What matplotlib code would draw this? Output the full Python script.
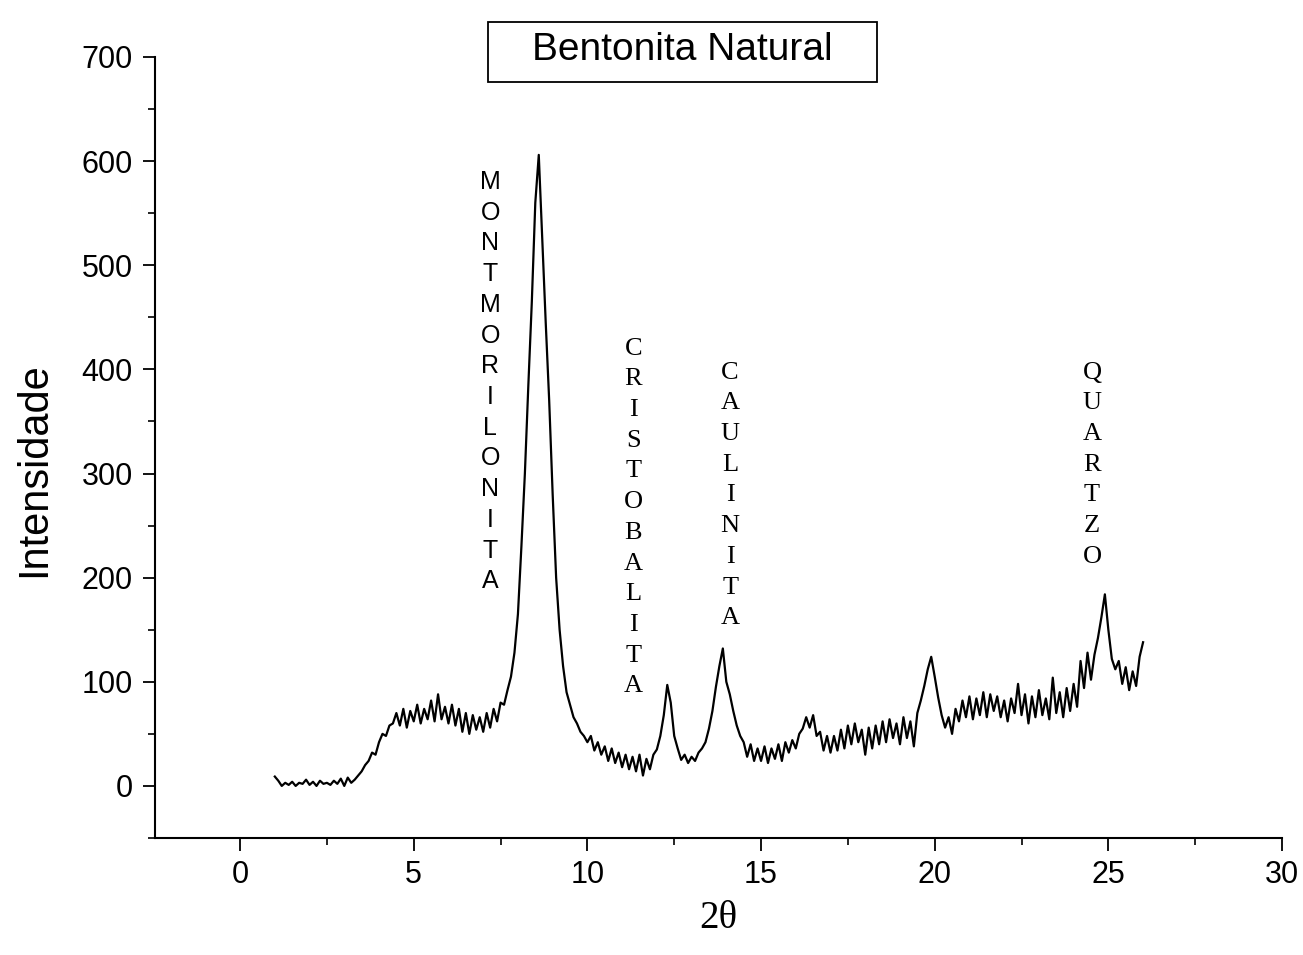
import numpy as np
import matplotlib
matplotlib.use("Agg")
import matplotlib.pyplot as plt
from matplotlib.patches import Rectangle
from matplotlib.ticker import MultipleLocator

# -------------------------------
# Data (step 0.1 deg in 2theta)
# -------------------------------
two_theta_start = 1.0
two_theta_step = 0.1

intensity = [
    9, 5, 0, 3, 1, 4, 0, 3, 2, 6,              # 1.0
    1, 4, 0, 5, 2, 3, 1, 5, 2, 7,              # 2.0
    0, 8, 3, 6, 10, 14, 20, 24, 32, 30,        # 3.0
    42, 50, 48, 58, 60, 70, 58, 74, 56, 72,    # 4.0
    62, 78, 60, 74, 64, 82, 62, 88, 64, 76,    # 5.0
    60, 78, 58, 74, 52, 70, 50, 68, 54, 66,    # 6.0
    52, 70, 56, 74, 62, 80, 78, 92, 105, 128,  # 7.0
    165, 230, 300, 385, 465, 560, 606, 525, 445, 370,  # 8.0
    280, 200, 150, 115, 90, 78, 66, 60, 52, 48,        # 9.0
    42, 48, 34, 42, 30, 38, 24, 36, 22, 32,    # 10.0
    18, 30, 16, 28, 14, 30, 10, 26, 16, 30,    # 11.0
    35, 48, 68, 97, 80, 48, 36, 25, 30, 22,    # 12.0
    28, 24, 32, 36, 42, 55, 72, 95, 115, 132,  # 13.0
    100, 88, 72, 58, 48, 42, 28, 40, 24, 36,   # 14.0
    24, 38, 22, 36, 26, 40, 24, 42, 32, 44,    # 15.0
    36, 50, 55, 66, 56, 68, 48, 52, 34, 48,    # 16.0
    32, 48, 34, 54, 36, 58, 40, 60, 42, 54,    # 17.0
    30, 56, 36, 58, 40, 62, 42, 64, 46, 60,    # 18.0
    40, 66, 46, 62, 38, 70, 82, 96, 112, 124,  # 19.0
    105, 85, 68, 56, 66, 50, 74, 62, 82, 66,   # 20.0
    86, 64, 84, 68, 90, 66, 88, 72, 86, 66,    # 21.0
    82, 62, 84, 70, 98, 68, 88, 60, 86, 66,    # 22.0
    92, 68, 84, 64, 104, 70, 90, 66, 94, 72,   # 23.0
    98, 76, 120, 94, 128, 102, 126, 142, 162, 184,  # 24.0
    150, 122, 112, 120, 98, 114, 92, 110, 96, 124,  # 25.0
    138,                                       # 26.0
]

two_theta = two_theta_start + two_theta_step * np.arange(len(intensity))

# phase labels: (name, x position, y of first letter, font family)
phase_names = ["MONTMORILONITA", "CRISTOBALITA", "CAULINITA", "QUARTZO"]
phase_x = [7.2, 11.32, 14.11, 24.53]
phase_ytop = [580, 420, 397, 397]
phase_family = ["Liberation Sans", "Liberation Serif", "Liberation Serif", "Liberation Serif"]

title = "Bentonita Natural"

# -------------------------------
# Figure
# -------------------------------
W, H = 1303, 955
fig = plt.figure(figsize=(W / 100, H / 100), dpi=100)
ax = fig.add_axes([155 / W, 1 - 838 / H, (1282 - 155) / W, (838 - 57) / H])

ax.plot(two_theta, intensity, color="black", lw=1.6)

ax.set_xlim(-2.45, 30)
ax.set_ylim(-50, 700)
ax.xaxis.set_major_locator(MultipleLocator(5))
ax.xaxis.set_minor_locator(MultipleLocator(2.5))
ax.yaxis.set_major_locator(MultipleLocator(100))
ax.yaxis.set_minor_locator(MultipleLocator(50))

for s in ["top", "right"]:
    ax.spines[s].set_visible(False)
for s in ["left", "bottom"]:
    ax.spines[s].set_linewidth(1.5)

ax.tick_params(which="major", direction="out", length=9, width=1.3, pad=7,
               labelsize=22)
ax.tick_params(which="minor", direction="out", length=5, width=1.2)
for lbl in ax.get_xticklabels() + ax.get_yticklabels():
    lbl.set_family("Liberation Sans")

fig.text(34 / W, 1 - 470 / H, "Intensidade", rotation=90, ha="center",
         va="center", fontsize=30, family="Liberation Sans")
fig.text(718 / W, 1 - 918 / H, "2\u03b8", ha="center", va="center",
         fontsize=28, family="Liberation Serif")

# title in a box
fig.patches.append(Rectangle((488 / W, 1 - 82 / H), 389 / W, 60 / H,
                             transform=fig.transFigure, fill=False,
                             lw=1.3, edgecolor="black"))
fig.text(682 / W, 1 - 50 / H, title, ha="center", va="center",
         fontsize=28, family="Liberation Sans")

# vertical phase labels, one letter per line
letter_step = 29.5
for name, x, ytop, fam in zip(phase_names, phase_x, phase_ytop, phase_family):
    size = 18 if fam == "Liberation Sans" else 19
    for i, ch in enumerate(name):
        ax.text(x, ytop - i * letter_step, ch, ha="center", va="center",
                fontsize=size, family=fam)

fig.savefig("out.png", dpi=100)
